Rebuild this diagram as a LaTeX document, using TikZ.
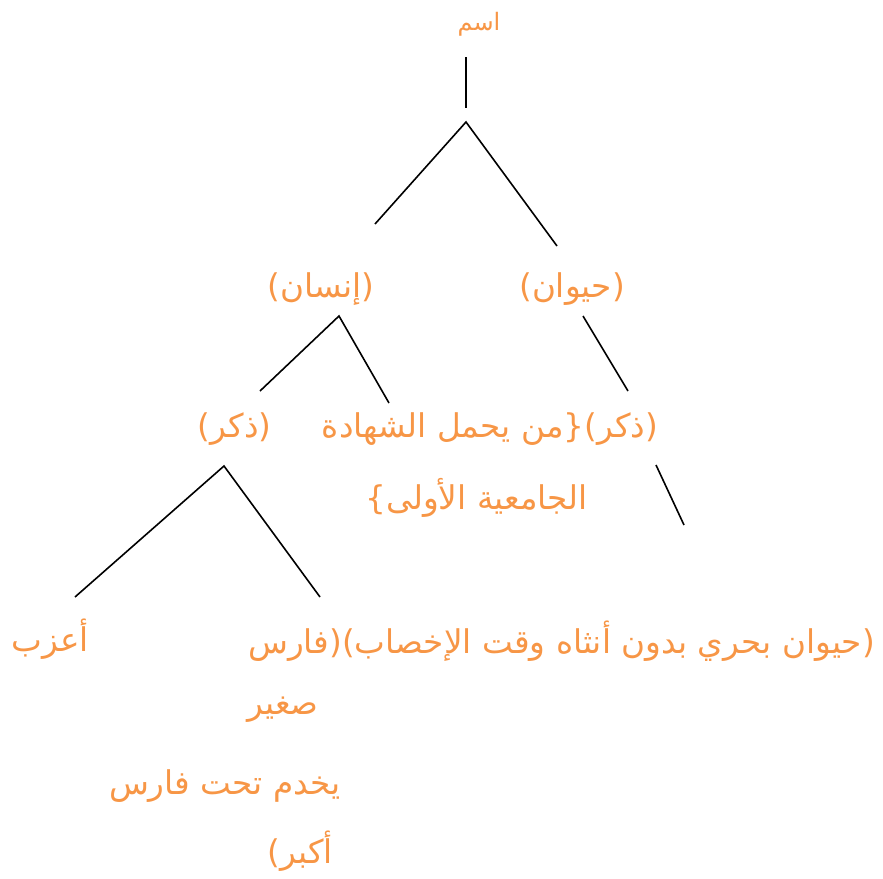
\documentclass[tikz,border=0pt]{standalone}
\usepackage{fontspec}
\newfontfamily\arabicfont[Script=Arabic]{DejaVu Sans}
\TeXXeTstate=1
\definecolor{txtorange}{HTML}{F79646}
\tikzset{
  lbl/.style={text=txtorange, font=\arabicfont\fontsize{24.5}{28}\selectfont, inner sep=0pt},
  small/.style={font=\arabicfont\fontsize{18}{20}\selectfont},
  edge/.style={draw=black, line width=1.2pt}
}
\begin{document}
\begin{tikzpicture}[x=0.75pt,y=-0.75pt]
\useasboundingbox (0,0) rectangle (883,879);
% texts
\node[lbl, small] (root) at (479,24) {\beginR اسم\endR};
\node[lbl] (insan) at (321,289) {\beginR (إنسان)\endR};
\node[lbl] (hayawan) at (572,289) {\beginR (حيوان)\endR};
\node[lbl] (dhakarL) at (234.5,429) {\beginR (ذكر)\endR};
\node[lbl] (lineA) at (490,429) {\beginR (ذكر)\{من يحمل الشهادة\endR};
\node[lbl] (lineB) at (476.5,498) {\beginR الجامعية الأولى\}\endR};
\node[lbl] (aazab) at (50,639) {\beginR أعزب\endR};
\node[lbl] (long) at (561.5,641) {\beginR (حيوان بحري بدون أنثاه وقت الإخصاب)(فارس\endR};
\node[lbl] (saghir) at (283,710) {\beginR صغير\endR};
\node[lbl] (yakhdum) at (225,786) {\beginR يخدم تحت فارس\endR};
\node[lbl] (akbar) at (300,851) {\beginR أكبر)\endR};
% connector points
\coordinate (r0) at (466,57);
\coordinate (r1) at (466,108);
\coordinate (r2) at (466,122);
\coordinate (a1) at (375,224);
\coordinate (b1) at (557,246);
\coordinate (h0) at (339,316);
\coordinate (h1) at (260,391);
\coordinate (h2) at (389,403);
\coordinate (n0) at (583,316);
\coordinate (n1) at (628,391);
\coordinate (m0) at (656,465);
\coordinate (m1) at (684,525);
\coordinate (d0) at (224,466);
\coordinate (d1) at (75,597);
\coordinate (d2) at (320,597);
% connectors
\draw[edge] (r0) -- (r1);
\draw[edge] (a1) -- (r2) -- (b1);
\draw[edge] (h1) -- (h0) -- (h2);
\draw[edge] (n0) -- (n1);
\draw[edge] (m0) -- (m1);
\draw[edge] (d1) -- (d0) -- (d2);
\end{tikzpicture}
\end{document}
